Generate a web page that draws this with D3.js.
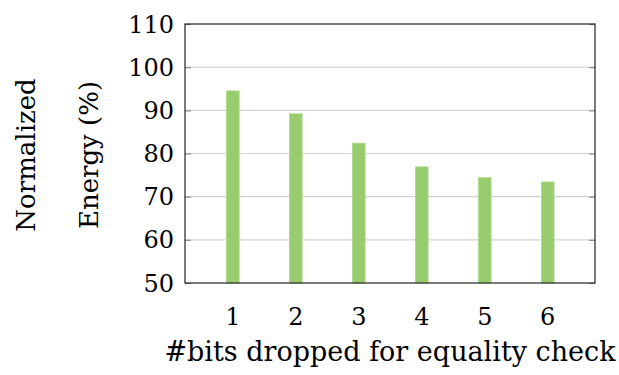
<!DOCTYPE html>
<html>
<head>
<meta charset="utf-8">
<script src="https://cdn.jsdelivr.net/npm/d3@7"></script>
<style>
  html, body { margin: 0; padding: 0; background: #fff; }
  svg text { font-family: "DejaVu Serif", serif; fill: #000; }
</style>
</head>
<body>
<svg id="chart" width="619" height="375"></svg>
<script>
// Bits dropped for the equality check and the resulting normalized energy (%)
const bitsDropped = [1, 2, 3, 4, 5, 6];
const energyPct = [94.5, 89.2, 82.4, 76.9, 74.4, 73.4];
const yTicks = [50, 60, 70, 80, 90, 100, 110];

const svg = d3.select("#chart");
const plot = { left: 185, right: 595, top: 24, bottom: 283 };

const x = d3.scaleLinear().domain([0.24, 6.75]).range([plot.left, plot.right]);
const y = d3.scaleLinear().domain([50, 110]).range([plot.bottom, plot.top]);

// horizontal grid
svg.append("g")
  .selectAll("line")
  .data(yTicks.slice(1, -1))
  .join("line")
  .attr("x1", plot.left).attr("x2", plot.right)
  .attr("y1", d => y(d)).attr("y2", d => y(d))
  .attr("stroke", "#d3d3d3").attr("stroke-width", 1.2);

// bars
const barW = 12.6;
svg.append("g")
  .selectAll("rect")
  .data(bitsDropped)
  .join("rect")
  .attr("x", (d) => x(d) - barW / 2)
  .attr("y", (d, i) => y(energyPct[i]))
  .attr("width", barW)
  .attr("height", (d, i) => y(50) - y(energyPct[i]))
  .attr("fill", "#99cc6e")
  .attr("stroke", "#abd98b")
  .attr("stroke-width", 0.8);

// inward tick marks on left and right
const tickLen = 6;
const yAxisL = d3.axisLeft(y).tickValues(yTicks).tickSize(-tickLen).tickFormat("");
const yAxisR = d3.axisRight(y).tickValues(yTicks).tickSize(-tickLen).tickFormat("");
svg.append("g").attr("transform", `translate(${plot.left},0)`).call(yAxisL)
  .call(g => g.select(".domain").remove())
  .call(g => g.selectAll("line").attr("stroke", "#8c8c8c").attr("stroke-width", 1.2));
svg.append("g").attr("transform", `translate(${plot.right},0)`).call(yAxisR)
  .call(g => g.select(".domain").remove())
  .call(g => g.selectAll("line").attr("stroke", "#8c8c8c").attr("stroke-width", 1.2));

// frame
svg.append("rect")
  .attr("x", plot.left).attr("y", plot.top)
  .attr("width", plot.right - plot.left).attr("height", plot.bottom - plot.top)
  .attr("fill", "none").attr("stroke", "#222").attr("stroke-width", 1.2);

// y tick labels
svg.append("g")
  .selectAll("text")
  .data(yTicks)
  .join("text")
  .attr("x", 174)
  .attr("y", d => y(d))
  .attr("dy", "0.36em")
  .attr("text-anchor", "end")
  .attr("font-size", 24)
  .text(d => d);

// x tick labels
svg.append("g")
  .selectAll("text")
  .data(bitsDropped)
  .join("text")
  .attr("x", d => x(d))
  .attr("y", 325)
  .attr("text-anchor", "middle")
  .attr("font-size", 24)
  .text(d => d);

// axis titles
svg.append("text")
  .attr("x", 390).attr("y", 361)
  .attr("text-anchor", "middle")
  .attr("font-size", 27)
  .text("#bits dropped for equality check");

svg.append("text")
  .attr("transform", "translate(35,155) rotate(-90)")
  .attr("text-anchor", "middle")
  .attr("font-size", 26)
  .text("Normalized");
svg.append("text")
  .attr("transform", "translate(98,155) rotate(-90)")
  .attr("text-anchor", "middle")
  .attr("font-size", 26)
  .text("Energy (%)");
</script>
</body>
</html>
